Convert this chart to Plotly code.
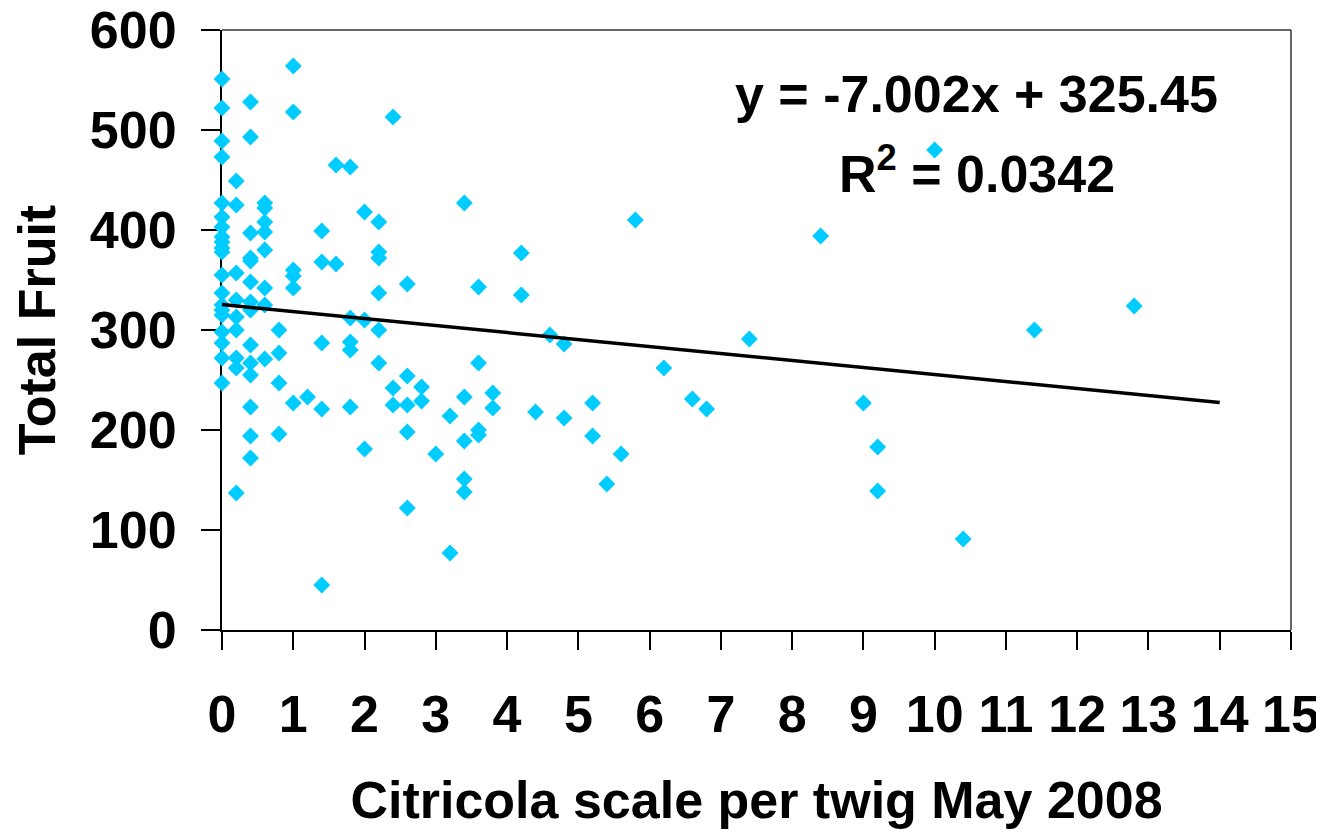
import plotly.graph_objects as go

# Scale count per twig (x) and total fruit (y)
scale_per_twig = (
    [0.0] * 20 + [0.2] * 9 + [0.4] * 14 + [0.6] * 8 + [0.8] * 4 + [1.0] * 6 + [1.2] * 1
    + [1.4] * 5 + [1.6] * 2 + [1.8] * 5 + [2.0] * 3 + [2.2] * 6 + [2.4] * 3 + [2.6] * 5
    + [2.8] * 2 + [3.0] * 1 + [3.2] * 2 + [3.4] * 5 + [3.6] * 4 + [3.8] * 2 + [4.2] * 2
    + [4.4] + [4.6] + [4.8] * 2 + [5.2] * 2 + [5.4] + [5.6] + [5.8] + [6.2] + [6.6] + [6.8]
    + [7.4] + [8.4] + [9.0] + [9.2] * 2 + [10.0] + [10.4] + [11.4] + [12.8]
)
total_fruit = (
    [551, 522, 489, 473, 427, 413, 403, 393, 388, 382, 378, 355, 337, 325, 320, 315, 298, 287, 272, 247]
    + [449, 425, 357, 330, 313, 300, 272, 262, 137]
    + [528, 493, 397, 372, 369, 348, 328, 320, 285, 267, 255, 223, 194, 172]
    + [427, 422, 408, 398, 380, 342, 325, 271]
    + [300, 277, 247, 196]
    + [564, 518, 360, 354, 342, 227]
    + [233]
    + [399, 368, 287, 221, 45]
    + [465, 366]
    + [463, 312, 288, 280, 223]
    + [418, 310, 181]
    + [408, 378, 372, 337, 300, 267]
    + [513, 242, 225]
    + [346, 254, 225, 198, 122]
    + [243, 229]
    + [176]
    + [214, 77]
    + [427, 233, 189, 151, 138]
    + [343, 267, 200, 195]
    + [237, 222]
    + [377, 335]
    + [218]
    + [295]
    + [286, 212]
    + [227, 194]
    + [146]
    + [176]
    + [410]
    + [262]
    + [231]
    + [221]
    + [291]
    + [394]
    + [227]
    + [183, 139]
    + [480]
    + [91]
    + [300]
    + [324]
)

# Linear trendline as printed on the chart
trend_slope = -7.002
trend_intercept = 325.45
trend_x = [0, 14]
trend_y = [trend_intercept + trend_slope * v for v in trend_x]

x_ticks = list(range(0, 16))
y_ticks = list(range(0, 601, 100))

FONT = "Arial, 'Liberation Sans', sans-serif"

fig = go.Figure()
fig.add_trace(go.Scatter(
    x=scale_per_twig, y=total_fruit, mode="markers",
    marker=dict(symbol="diamond", size=13, color="#00CCFF", line=dict(width=0)),
    cliponaxis=False, showlegend=False,
))
fig.add_trace(go.Scatter(
    x=trend_x, y=trend_y, mode="lines",
    line=dict(color="black", width=3.5), showlegend=False,
))

fig.update_layout(
    width=1316, height=824,
    margin=dict(l=214, r=33, t=22, b=202),
    paper_bgcolor="white", plot_bgcolor="white",
    font=dict(family=FONT, size=52, color="black"),
    xaxis=dict(
        range=[0, 15], tickvals=x_ticks, ticktext=[str(v) for v in x_ticks],
        showgrid=False, zeroline=False, showline=True, linecolor="black", linewidth=2,
        ticks="outside", ticklen=18, tickwidth=2, tickcolor="black",
        tickfont=dict(family=FONT, size=52, color="black", weight="bold"),
        ticklabelstandoff=20, automargin=False, ticklabeloverflow="allow",
        title=dict(text="<b>Citricola scale per twig May 2008</b>", standoff=39,
                   font=dict(family=FONT, size=52, color="black")),
        layer="below traces",
    ),
    yaxis=dict(
        range=[0, 600], tickvals=y_ticks, ticktext=[str(v) for v in y_ticks],
        showgrid=False, zeroline=False, showline=True, linecolor="black", linewidth=2,
        ticks="outside", ticklen=19, tickwidth=2, tickcolor="black",
        tickfont=dict(family=FONT, size=52, color="black", weight="bold"),
        ticklabelstandoff=14, automargin=False, ticklabeloverflow="allow",
        title=dict(text="<b>Total Fruit</b>", standoff=20,
                   font=dict(family=FONT, size=52, color="black")),
        layer="below traces",
    ),
    shapes=[
        dict(type="line", xref="paper", yref="paper", x0=0, x1=1, y0=1, y1=1,
             line=dict(color="#333333", width=1.5)),
        dict(type="line", xref="paper", yref="paper", x0=1, x1=1, y0=0, y1=1,
             line=dict(color="#333333", width=1.5)),
    ],
    annotations=[
        dict(text="<b>y = -7.002x + 325.45</b>", xref="paper", yref="paper",
             x=0.706, y=0.893, xanchor="center", yanchor="middle", showarrow=False,
             font=dict(family=FONT, size=52, color="black")),
        dict(text="<b>R<sup>2</sup> = 0.0342</b>", xref="paper", yref="paper",
             x=0.706, y=0.767, xanchor="center", yanchor="middle", showarrow=False,
             font=dict(family=FONT, size=52, color="black")),
    ],
)

fig.write_html("out.html")
